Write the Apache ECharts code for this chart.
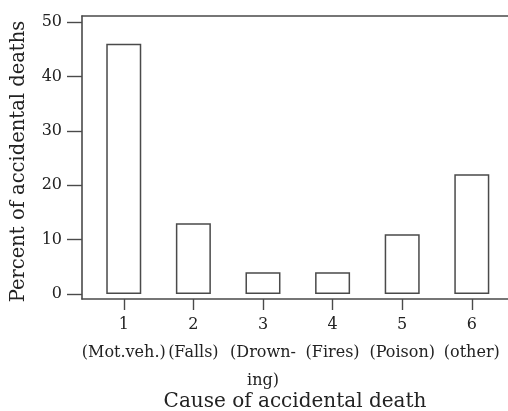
<!DOCTYPE html>
<html>
<head>
<meta charset="utf-8">
<script src="https://cdn.jsdelivr.net/npm/echarts@6/dist/echarts.min.js"></script>
<style>html,body{margin:0;padding:0;background:#fff;}#c{width:508px;height:411px;}</style>
</head>
<body>
<div id="c"></div>
<script>
var codes = [1, 2, 3, 4, 5, 6];
var causes = ['(Mot.veh.)', '(Falls)', '(Drown-\ning)', '(Fires)', '(Poison)', '(other)'];
var percents = [46, 13, 4, 4, 11, 22];
var yTicks = [0, 10, 20, 30, 40, 50];

var FONT = 'DejaVu Serif';
var LINE = '#4a4a4a';
var TEXT = '#222';

var chart = echarts.init(document.getElementById('c'));
chart.setOption({
  animation: false,
  backgroundColor: '#fff',
  grid: { left: 82, right: 0, top: 16, bottom: 112, containLabel: false, outerBoundsMode: 'none' },
  xAxis: [{
    type: 'value', min: 0.4, max: 6.52, position: 'bottom',
    axisLine: { show: true, onZero: false, lineStyle: { color: LINE, width: 1.6 } },
    axisTick: { show: true, customValues: codes, length: 11, inside: false, lineStyle: { color: LINE, width: 1.4 } },
    axisLabel: {
      customValues: codes, margin: 12, fontFamily: FONT, fontSize: 16, color: TEXT, lineHeight: 28,
      formatter: function (v) { var i = codes.indexOf(Math.round(v)); return i < 0 ? '' : codes[i] + '\n' + causes[i]; }
    },
    splitLine: { show: false },
    name: 'Cause of accidental death', nameLocation: 'middle', nameGap: 93, nameMoveOverlap: false,
    nameTextStyle: { fontFamily: FONT, fontSize: 20, color: TEXT }
  }, {
    type: 'value', min: 0.4, max: 6.52, position: 'top',
    axisLine: { show: true, onZero: false, lineStyle: { color: LINE, width: 1.6 } },
    axisTick: { show: false }, axisLabel: { show: false }, splitLine: { show: false }
  }],
  yAxis: {
    type: 'value', min: -0.92, max: 51.1,
    axisLine: { show: true, onZero: false, lineStyle: { color: LINE, width: 1.6 } },
    axisTick: { show: true, customValues: yTicks, length: 15, inside: false, lineStyle: { color: LINE, width: 1.4 } },
    axisLabel: { customValues: yTicks, margin: 20, fontFamily: FONT, fontSize: 16, color: TEXT },
    splitLine: { show: false },
    name: 'Percent of accidental deaths', nameLocation: 'middle', nameGap: 53, nameMoveOverlap: false,
    nameTextStyle: { fontFamily: FONT, fontSize: 19.5, color: TEXT, padding: [0, 8, 0, 0] }
  },
  series: [{
    type: 'bar', xAxisIndex: 0, barWidth: 35,
    data: codes.map(function (c, i) { return [c, percents[i]]; }),
    itemStyle: { color: '#fff', borderColor: LINE, borderWidth: 1.5 }
  }]
});
</script>
</body>
</html>
